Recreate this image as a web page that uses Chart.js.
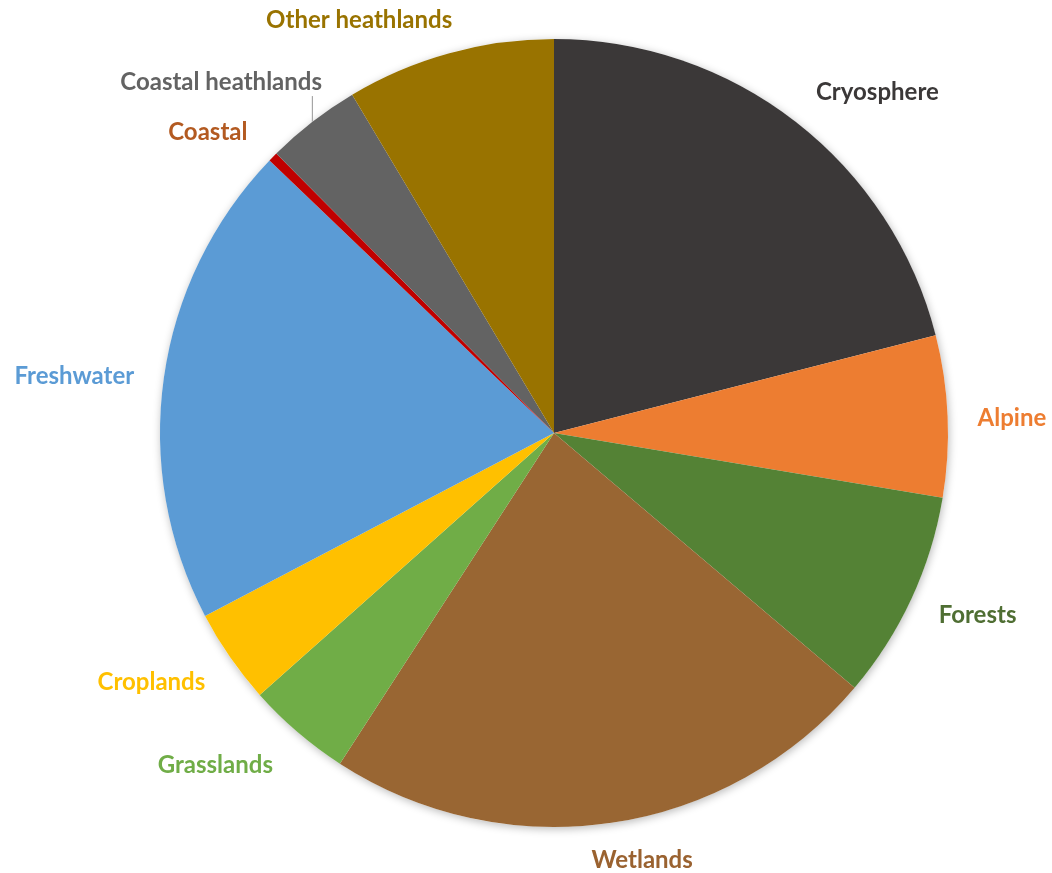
<!DOCTYPE html>
<html><head><meta charset="utf-8">
<script src="https://cdn.jsdelivr.net/npm/chart.js@4.4.1/dist/chart.umd.min.js"></script>
<style>html,body{margin:0;padding:0;background:#fff}#wrap{width:1052px;height:873px;position:relative}</style>
</head><body><div id="wrap"><canvas id="c"></canvas></div>
<script>
// ---- data ----
const categories = ["Cryosphere","Alpine","Forests","Wetlands","Grasslands","Croplands","Freshwater","Coastal","Coastal heathlands","Other heathlands"];
const values = [54,17,22,59,11,10,51,1,10,22];
// ---- styles ----
const sliceColors = ["#3B3838","#ED7D31","#548235","#996633","#70AD47","#FFC000","#5B9BD5","#C00000","#636363","#997300"];
const labelColors = ["#3B3838","#ED7D31","#4F6E33","#9A6230","#70AD47","#FFC000","#5B9BD5","#B35A21","#636363","#997300"];
const labelShift = [[2,-2],[0,0],[0,-4],[4,0],[-5,2],[0,0],[0,0],[-4,0],[28,-12],[-8,0]];
const leader = [false,false,false,false,false,false,false,false,true,false];
const FONT = "bold 24px Lato, 'Open Sans', sans-serif";

const shadowPlugin = {
  id:'shadow',
  beforeDatasetsDraw(chart){
    const a = chart.getDatasetMeta(0).data[0];
    if(!a) return;
    const ctx = chart.ctx;
    ctx.save();
    ctx.shadowColor = 'rgba(0,0,0,0.28)';
    ctx.shadowBlur = 9;
    ctx.shadowOffsetX = 1;
    ctx.shadowOffsetY = 2;
    ctx.fillStyle = '#fff';
    ctx.beginPath();
    ctx.arc(a.x, a.y, a.outerRadius, 0, Math.PI*2);
    ctx.fill();
    ctx.restore();
  }
};

const labelPlugin = {
  id:'outLabels',
  afterDatasetsDraw(chart){
    const ctx = chart.ctx;
    const meta = chart.getDatasetMeta(0);
    ctx.save();
    ctx.font = FONT;
    ctx.textAlign = 'center';
    ctx.textBaseline = 'middle';
    meta.data.forEach((arc,i)=>{
      const p = arc.getProps(['x','y','startAngle','endAngle','outerRadius'], true);
      const mid = (p.startAngle + p.endAngle)/2;
      const c = Math.cos(mid), s = Math.sin(mid);
      const r = p.outerRadius + 30;
      const px = p.x + c*r, py = p.y + s*r;
      const w = ctx.measureText(categories[i]).width, h = 28;
      const fx = Math.max(-1, Math.min(1, c*3));
      const fy = Math.max(-1, Math.min(1, s*3));
      const tx = px + w/2*fx + labelShift[i][0];
      const ty = py + 4*fy + 4*Math.max(0, Math.min(1, (fy+1)*2)) + labelShift[i][1];
      if(leader[i]){
        const mx = p.x + c*p.outerRadius, my = p.y + s*p.outerRadius;
        ctx.strokeStyle = '#A6A6A6';
        ctx.lineWidth = 1.2;
        ctx.beginPath();
        ctx.moveTo(mx, my);
        ctx.lineTo(mx, ty + h/2);
        ctx.stroke();
      }
      ctx.fillStyle = labelColors[i];
      ctx.fillText(categories[i], tx, ty);
    });
    ctx.restore();
  }
};

new Chart(document.getElementById('c'), {
  type:'pie',
  data:{ labels: categories, datasets:[{ data: values, backgroundColor: sliceColors, borderWidth:0 }]},
  options:{
    responsive:true, maintainAspectRatio:false, animation:false,
    layout:{ padding:{ left:56, right:0, top:39, bottom:46 } },
    plugins:{ legend:{display:false}, tooltip:{enabled:false} }
  },
  plugins:[shadowPlugin, labelPlugin]
});
</script></body></html>
